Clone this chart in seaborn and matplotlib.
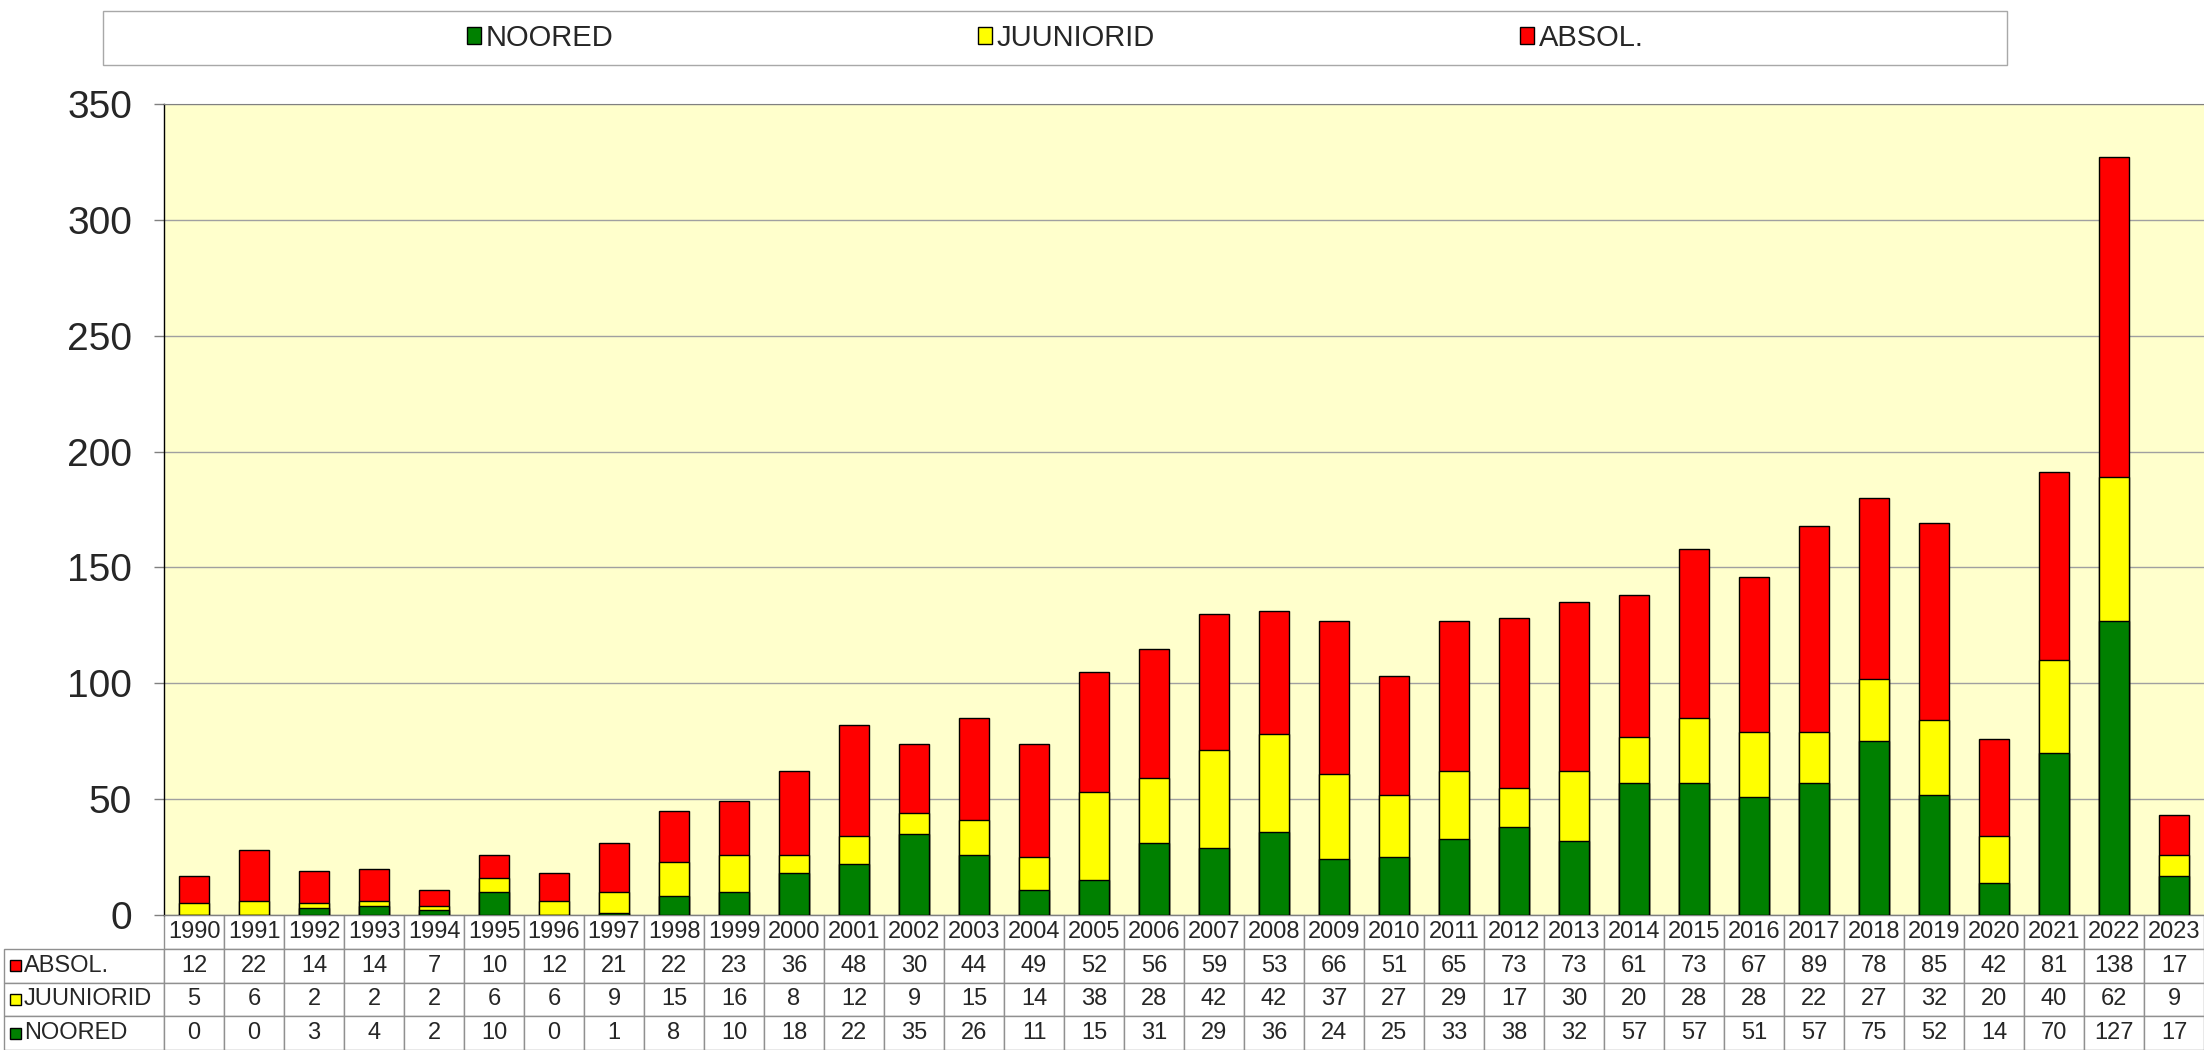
import matplotlib
matplotlib.use("Agg")
import matplotlib.pyplot as plt
import seaborn as sns
import pandas as pd
from matplotlib.patches import Rectangle, Patch
from matplotlib import font_manager

years = ["1990", "1991", "1992", "1993", "1994", "1995", "1996", "1997", "1998", "1999",
         "2000", "2001", "2002", "2003", "2004", "2005", "2006", "2007", "2008", "2009",
         "2010", "2011", "2012", "2013", "2014", "2015", "2016", "2017", "2018", "2019",
         "2020", "2021", "2022", "2023"]
absol = [12, 22, 14, 14, 7, 10, 12, 21, 22, 23, 36, 48, 30, 44, 49, 52, 56, 59, 53, 66,
         51, 65, 73, 73, 61, 73, 67, 89, 78, 85, 42, 81, 138, 17]
juuniorid = [5, 6, 2, 2, 2, 6, 6, 9, 15, 16, 8, 12, 9, 15, 14, 38, 28, 42, 42, 37,
             27, 29, 17, 30, 20, 28, 28, 22, 27, 32, 20, 40, 62, 9]
noored = [0, 0, 3, 4, 2, 10, 0, 1, 8, 10, 18, 22, 35, 26, 11, 15, 31, 29, 36, 24,
          25, 33, 38, 32, 57, 57, 51, 57, 75, 52, 14, 70, 127, 17]
series_names = ["NOORED", "JUUNIORID", "ABSOL."]
table_rows = ["ABSOL.", "JUUNIORID", "NOORED"]
yticks = [0, 50, 100, 150, 200, 250, 300, 350]

C_GREEN, C_YELLOW, C_RED = "#008000", "#FFFF00", "#FF0000"

sns.set_style("ticks")
plt.rcParams["font.family"] = ["Liberation Sans", "DejaVu Sans"]
names = {f.name for f in font_manager.fontManager.ttflist}
if "Liberation Sans Narrow" in names:
    NARROW, TFS = ["Liberation Sans Narrow"], 19
else:
    NARROW, TFS = ["Liberation Sans"], 17

df = pd.DataFrame({"year": years, "absol": absol, "juuniorid": juuniorid, "noored": noored})
df["jn"] = df["noored"] + df["juuniorid"]
df["total"] = df["jn"] + df["absol"]

W, H = 2204, 1050
fig = plt.figure(figsize=(W / 100, H / 100), dpi=100)
ax_l, ax_r, ax_t, ax_b = 164, 2204, 104, 915
ax = fig.add_axes([ax_l / W, 1 - ax_b / H, (ax_r - ax_l) / W, (ax_b - ax_t) / H])
ax.set_facecolor("#FFFFCC")

for col, colr in [("total", C_RED), ("jn", C_YELLOW), ("noored", C_GREEN)]:
    sns.barplot(data=df, x="year", y=col, order=years, color=colr, saturation=1,
                width=0.5, edgecolor="black", linewidth=1.0, errorbar=None, ax=ax, zorder=3)

ax.set_xlim(-0.5, len(years) - 0.5)
ax.set_ylim(0, 350)
ax.set_yticks(yticks)
ax.set_xticks([])
ax.set_xlabel("")
ax.set_ylabel("")
ax.grid(axis="y", color="#a0a0a0", linewidth=1, zorder=0)
ax.set_axisbelow(True)
ax.tick_params(axis="y", labelsize=28, length=7, width=1, color="#808080", pad=16, direction="out")
ax.spines["right"].set_visible(False)
ax.spines["top"].set_color("#808080")
ax.spines["left"].set_color("black")
ax.spines["left"].set_linewidth(1)
ax.spines["bottom"].set_color("#808080")

# data table (first column holds the row labels)
vals = {"ABSOL.": absol, "JUUNIORID": juuniorid, "NOORED": noored}
cell_text = [[r] + [str(v) for v in vals[r]] for r in table_rows]
col_labels = [""] + years
axw = ax_r - ax_l
axh = ax_b - ax_t
x0 = (4 - ax_l) / axw
th = (H - ax_b) / axh
tbl = ax.table(cellText=cell_text, colLabels=col_labels, cellLoc="center",
               bbox=[x0, -th, 1 - x0, th])
tbl.auto_set_font_size(False)
tbl.set_fontsize(TFS)
for (r, c), cell in tbl.get_celld().items():
    cell.set_edgecolor("#909090")
    cell.set_linewidth(1)
    cell.set_width(-x0 if c == 0 else 1 / len(years))
    cell.set_height(th / 4)
    cell.get_text().set_fontfamily(NARROW)
    cell.get_text().set_fontsize(TFS)
    if c == 0:
        cell._loc = "left"
        cell.get_text().set_horizontalalignment("left")
        cell.PAD = 0.125
        if r == 0:
            cell.visible_edges = ""

# colour keys in table row labels
row_h = (H - ax_b) / 4
key_cols = {"ABSOL.": C_RED, "JUUNIORID": C_YELLOW, "NOORED": C_GREEN}
for i, r in enumerate(table_rows):
    yc = ax_b + row_h * (i + 1.5)
    fig.add_artist(Rectangle((10 / W, 1 - (yc + 5.5) / H), 11 / W, 11 / H,
                             transform=fig.transFigure, facecolor=key_cols[r],
                             edgecolor="black", linewidth=1))

# legend box
fig.add_artist(Rectangle((103 / W, 1 - 65 / H), 1904 / W, 54 / H, transform=fig.transFigure,
                         facecolor="white", edgecolor="#a8a8a8", linewidth=1, zorder=0))
handles = [Patch(facecolor=C_GREEN, edgecolor="black"),
           Patch(facecolor=C_YELLOW, edgecolor="black"),
           Patch(facecolor=C_RED, edgecolor="black")]
leg = fig.legend(handles, series_names, loc="center", bbox_to_anchor=((103 + 2007) / 2 / W, 1 - 38 / H),
                 ncol=3, frameon=False, fontsize=21, handlelength=0.5, handleheight=0.5,
                 handletextpad=0.15, columnspacing=12.5)

fig.savefig("out.png", dpi=100)
